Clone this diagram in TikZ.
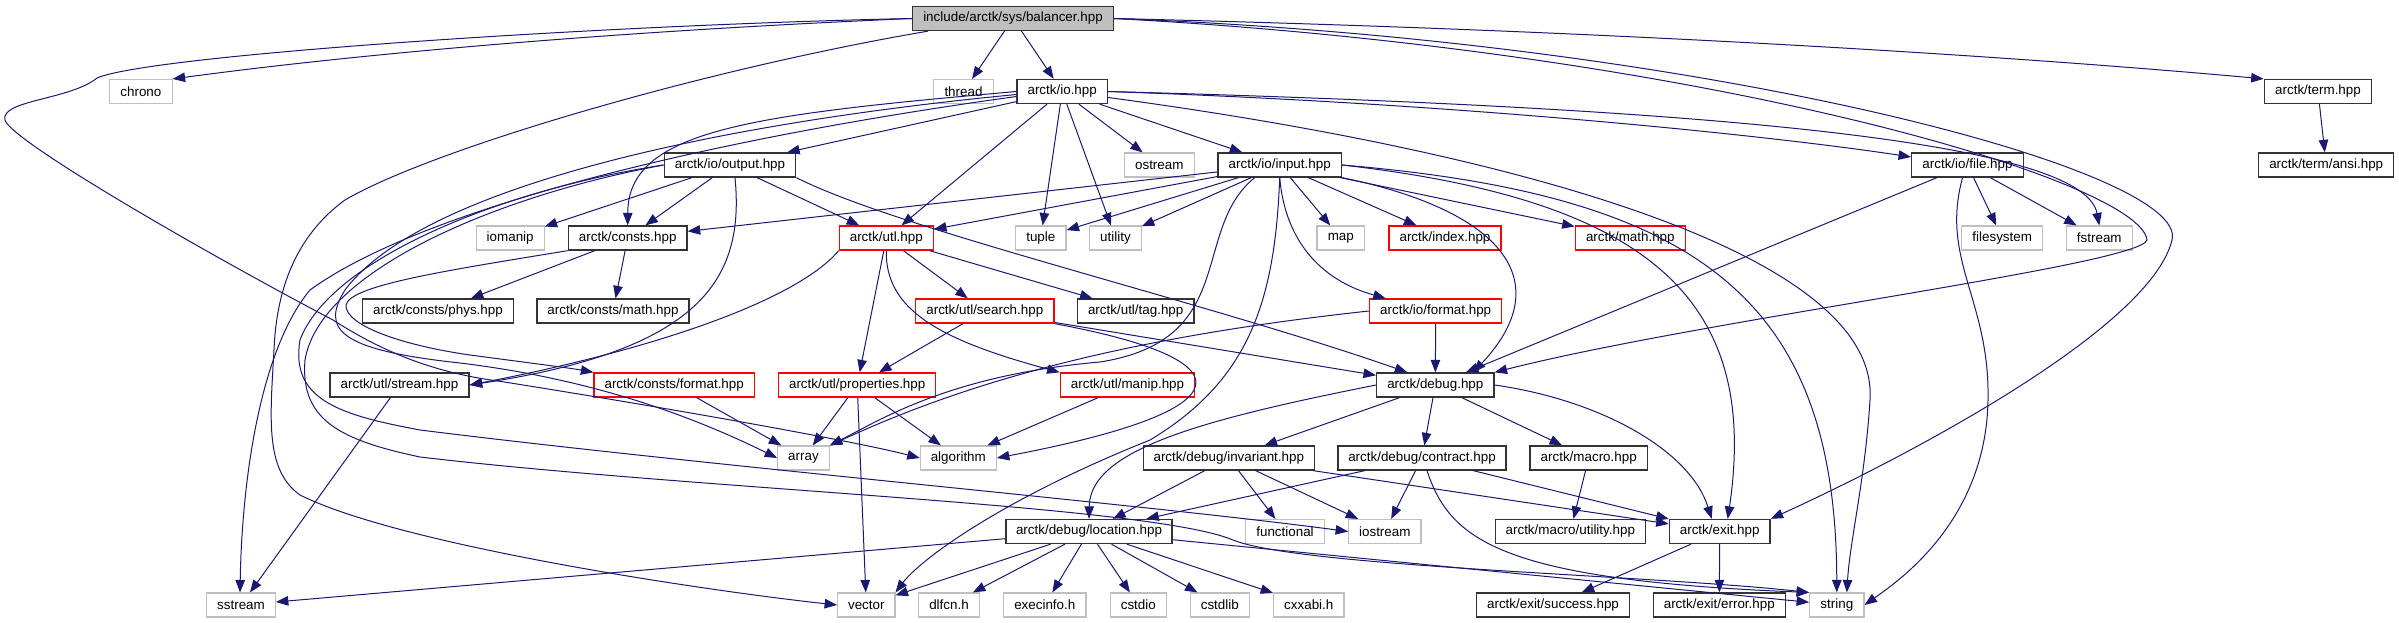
\documentclass[tikz,border=0pt]{standalone}
\usepackage{fontspec}
\setmainfont{Liberation Sans}
\usetikzlibrary{arrows.meta}
\definecolor{edgec}{HTML}{191970}
\definecolor{grayb}{HTML}{BFBFBF}
\tikzset{
 box/.style={rectangle, draw=black!80, line width=1.3pt, minimum height=24pt, inner sep=0pt, font=\fontsize{13.4}{15}\selectfont, text=black},
 sysbox/.style={box, draw=grayb, line width=1.1pt},
 redbox/.style={box, draw=red},
 rootbox/.style={box, fill=grayb},
 link/.style={draw=edgec, line width=1pt, -{Triangle[length=12.5pt,width=9.5pt]}},
}
\begin{document}
\begin{tikzpicture}[x=1pt,y=-1pt]
\useasboundingbox (0,0) rectangle (2399,623);
% row 0
\node[rootbox, minimum width=200.6] (bal) at (1013,18.5) {include/arctk/sys/balancer.hpp};
% row 1
\node[sysbox, minimum width=62.3] (chrono) at (140.9,91.5) {chrono};
\node[sysbox, minimum width=59.6] (thread) at (963.5,91.5) {thread};
\node[box, minimum width=90.3] (io) at (1062.2,91.5) {arctk/io.hpp};
\node[box, minimum width=107.4] (term) at (2318,91.5) {arctk/term.hpp};
% row 2
\node[box, minimum width=131.4] (output) at (730,165) {arctk/io/output.hpp};
\node[sysbox, minimum width=70] (ostream) at (1159.3,165) {ostream};
\node[box, minimum width=123.3] (input) at (1279.7,165) {arctk/io/input.hpp};
\node[box, minimum width=111.6] (file) at (1967.5,165) {arctk/io/file.hpp};
\node[box, minimum width=135] (ansi) at (2326.2,165) {arctk/term/ansi.hpp};
% row 3
\node[sysbox, minimum width=67.7] (iomanip) at (510.2,238) {iomanip};
\node[box, minimum width=118.7] (consts) at (627.7,238) {arctk/consts.hpp};
\node[redbox, minimum width=94] (utl) at (886.3,238) {arctk/utl.hpp};
\node[sysbox, minimum width=50.3] (tuple) at (1040.8,238) {tuple};
\node[sysbox, minimum width=51.6] (utility) at (1115.5,238) {utility};
\node[sysbox, minimum width=47.7] (map) at (1340.8,238) {map};
\node[redbox, minimum width=112] (index) at (1445,238) {arctk/index.hpp};
\node[redbox, minimum width=110] (amath) at (1630.3,238) {arctk/math.hpp};
\node[sysbox, minimum width=81] (filesystem) at (2002.2,238) {filesystem};
\node[sysbox, minimum width=66] (fstream) at (2099.3,238) {fstream};
% row 4
\node[box, minimum width=151] (phys) at (438,311) {arctk/consts/phys.hpp};
\node[box, minimum width=152] (cmath) at (613,311) {arctk/consts/math.hpp};
\node[redbox, minimum width=138.3] (search) at (984.8,311) {arctk/utl/search.hpp};
\node[box, minimum width=116.7] (tag) at (1135.7,311) {arctk/utl/tag.hpp};
\node[redbox, minimum width=132] (ioformat) at (1435.7,311) {arctk/io/format.hpp};
% row 5
\node[box, minimum width=139] (stream) at (399.5,385) {arctk/utl/stream.hpp};
\node[redbox, minimum width=160.3] (cformat) at (674.2,385) {arctk/consts/format.hpp};
\node[redbox, minimum width=157] (props) at (857.2,385) {arctk/utl/properties.hpp};
\node[redbox, minimum width=134.4] (manip) at (1127.5,385) {arctk/utl/manip.hpp};
\node[box, minimum width=117.3] (debug) at (1435.3,385) {arctk/debug.hpp};
% row 6
\node[sysbox, minimum width=51.6] (array) at (803.5,458) {array};
\node[sysbox, minimum width=76] (algorithm) at (958.3,458) {algorithm};
\node[box, minimum width=171] (invariant) at (1228.8,458) {arctk/debug/invariant.hpp};
\node[box, minimum width=168] (contract) at (1422,458) {arctk/debug/contract.hpp};
\node[box, minimum width=117.3] (macro) at (1588.7,458) {arctk/macro.hpp};
% row 7
\node[box, minimum width=166] (location) at (1089,531.5) {arctk/debug/location.hpp};
\node[sysbox, minimum width=78.6] (functional) at (1285,531.5) {functional};
\node[sysbox, minimum width=72.3] (iostream) at (1384.8,531.5) {iostream};
\node[box, minimum width=150] (mutility) at (1570.3,531.5) {arctk/macro/utility.hpp};
\node[box, minimum width=100.7] (exit) at (1719.7,531.5) {arctk/exit.hpp};
% row 8
\node[sysbox, minimum width=68.6] (sstream) at (241,605) {sstream};
\node[sysbox, minimum width=57.3] (vector) at (866.3,605) {vector};
\node[sysbox, minimum width=60.6] (dlfcn) at (949,605) {dlfcn.h};
\node[sysbox, minimum width=82.3] (execinfo) at (1044.8,605) {execinfo.h};
\node[sysbox, minimum width=56] (cstdio) at (1138.3,605) {cstdio};
\node[sysbox, minimum width=59] (cstdlib) at (1219.8,605) {cstdlib};
\node[sysbox, minimum width=70.3] (cxxabi) at (1308.8,605) {cxxabi.h};
\node[box, minimum width=152.6] (success) at (1553,605) {arctk/exit/success.hpp};
\node[box, minimum width=132] (error) at (1719.3,605) {arctk/exit/error.hpp};
\node[sysbox, minimum width=54.3] (string) at (1836.8,605) {string};

% ---- edges from balancer
\draw[link] (bal.west) .. controls (600,32) and (350,55) .. (chrono.north east);
\draw[link] (bal) -- (thread);
\draw[link] (bal) -- (io);
\draw[link] (bal.east) .. controls (1600,30) and (2000,55) .. (term.north west);
\draw[link] ([xshift=-85pt]bal.south) .. controls (700,70) and (430,150) .. (345,200) .. controls (290,240) and (276,300) .. (274,350) .. controls (270,420) and (265,470) .. (300,495) .. controls (400,545) and (700,590) .. (vector.west);
\draw[link] (bal.west) .. controls (600,25) and (150,55) .. (97,78) .. controls (70,100) and (0,100) .. (5,120) .. controls (10,140) and (200,250) .. (333,320) .. controls (380,350) and (430,372) .. (498,381) .. controls (650,405) and (850,440) .. (algorithm.west);
\draw[link] (bal.east) .. controls (1700,50) and (2140,180) .. (2147,240) .. controls (2140,265) and (1700,320) .. (debug.north east);
\draw[link] (bal.east) .. controls (1700,40) and (2190,170) .. (2172,240) .. controls (2150,330) and (1900,460) .. (exit.north east);
% ---- io.hpp
\draw[link] (io) -- (output);
\draw[link] (io) -- (ostream);
\draw[link] (io) -- (input);
\draw[link] (io) -- (utl);
\draw[link] (io) -- (tuple);
\draw[link] (io) -- (utility);
\draw[link] (io.west) .. controls (750,115) and (628,130) .. (consts.north);
\draw[link] (io.east) .. controls (1500,105) and (1800,140) .. ([yshift=8pt]file.west);
\draw[link] (io.east) .. controls (1800,110) and (2085,150) .. (fstream.north);
\draw[link] ([yshift=-6pt]io.east) .. controls (1500,150) and (1880,250) .. (1870,400) .. controls (1865,480) and (1850,540) .. ([xshift=10pt]string.north);
\draw[link] ([yshift=-3pt]io.west) .. controls (700,125) and (420,190) .. (345,290) .. controls (320,330) and (340,350) .. (460,363) .. controls (600,380) and (700,420) .. (array.west);
\draw[link] ([yshift=-5pt]io.west) .. controls (700,140) and (420,210) .. (310,290) .. controls (260,350) and (242,480) .. ([xshift=-1pt]sstream.north);
% ---- output.hpp
\draw[link] (output) -- (iomanip);
\draw[link] (output) -- (consts);
\draw[link] (output) -- (utl);
\draw[link] (output.south east) .. controls (900,230) and (1200,300) .. ([xshift=-28pt]debug.north);
\draw[link] ([xshift=5pt]output.south) .. controls (745,280) and (700,350) .. (stream.east);
\draw[link] (output.west) .. controls (500,190) and (330,260) .. (300,340) .. controls (290,400) and (340,415) .. (420,430) .. controls (700,465) and (1150,505) .. (iostream.west);
\draw[link] (output.west) .. controls (500,195) and (320,270) .. (305,360) .. controls (300,420) and (340,440) .. (420,457) .. controls (700,490) and (1150,505) .. (1233,540) .. controls (1300,567) and (1650,575) .. (string.north west);
% ---- input.hpp
\draw[link] (input) -- (consts);
\draw[link] (input) -- (utl);
\draw[link] (input) -- (tuple);
\draw[link] (input) -- (utility);
\draw[link] (input) -- (map);
\draw[link] (input) -- (index);
\draw[link] (input) -- (amath);
\draw[link] (input.south) .. controls (1285,240) and (1320,280) .. ([xshift=-50pt]ioformat.north);
\draw[link] (input.south east) .. controls (1500,210) and (1560,280) .. ([xshift=38pt]debug.north);
\draw[link] (input.east) .. controls (1650,200) and (1760,300) .. ([xshift=8pt]exit.north);
\draw[link] (input.east) .. controls (1700,195) and (1836,300) .. (string.north);
\draw[link] ([xshift=-25pt]input.south) .. controls (1190,230) and (1240,340) .. (1100,362) .. controls (950,375) and (880,420) .. (array.north east);
\draw[link] (input.south) .. controls (1275,300) and (1250,380) .. (1150,440) .. controls (1000,500) and (920,560) .. (vector.north east);
% ---- file.hpp
\draw[link] (file) -- (filesystem);
\draw[link] (file) -- (fstream);
\draw[link] (file) -- (debug);
\draw[link] ([xshift=-5pt]file.south) .. controls (1940,260) and (1990,300) .. (1988,400) .. controls (1986,520) and (1900,580) .. (string.east);
% ---- term
\draw[link] (term) -- (ansi);
% ---- consts
\draw[link] (consts) -- (phys);
\draw[link] (consts) -- (cmath);
\draw[link] (consts.south west) .. controls (450,270) and (350,285) .. (346,305) .. controls (345,325) and (400,345) .. (470,355) .. controls (530,363) and (570,368) .. (cformat.north west);
% ---- utl
\draw[link] (utl.south west) .. controls (800,297) and (667,347) .. (stream.east);
\draw[link] (utl) -- (search);
\draw[link] (utl) -- (tag);
\draw[link] (utl) -- (props);
\draw[link] (utl.south) .. controls (885,310) and (940,340) .. (manip.north west);
% ---- search / props / manip / formats
\draw[link] (search) -- (props);
\draw[link] (search) -- (debug);
\draw[link] (search.south east) .. controls (1250,360) and (1250,410) .. (algorithm.east);
\draw[link] (props) -- (array);
\draw[link] (props) -- (algorithm);
\draw[link] (props) -- (vector);
\draw[link] (manip) -- (algorithm);
\draw[link] (cformat) -- (array);
\draw[link] (ioformat) -- (debug);
\draw[link] (ioformat.west) .. controls (1100,340) and (950,390) .. (array.north east);
\draw[link] (stream) -- (sstream);
% ---- debug
\draw[link] (debug) -- (invariant);
\draw[link] (debug) -- (contract);
\draw[link] (debug) -- (macro);
\draw[link] (debug.east) .. controls (1600,400) and (1690,450) .. ([xshift=-8pt]exit.north);
\draw[link] (debug.west) .. controls (1200,420) and (1090,450) .. (location.north);
% ---- invariant / contract / macro
\draw[link] (invariant) -- (functional);
\draw[link] (invariant) -- (iostream);
\draw[link] (invariant) -- (location);
\draw[link] (invariant) -- (exit);
\draw[link] (contract) -- (iostream);
\draw[link] (contract) -- (location);
\draw[link] (contract) -- (exit);
\draw[link] ([xshift=5pt]contract.south) .. controls (1450,540) and (1500,580) .. (string.north west);
\draw[link] (macro) -- (mutility);
% ---- location
\draw[link] (location) -- (sstream);
\draw[link] (location) -- (vector);
\draw[link] (location) -- (dlfcn);
\draw[link] (location) -- (execinfo);
\draw[link] (location) -- (cstdio);
\draw[link] (location) -- (cstdlib);
\draw[link] (location) -- (cxxabi);
\draw[link] (location) -- (string);
% ---- exit
\draw[link] (exit) -- (success);
\draw[link] (exit) -- (error);
\end{tikzpicture}
\end{document}
